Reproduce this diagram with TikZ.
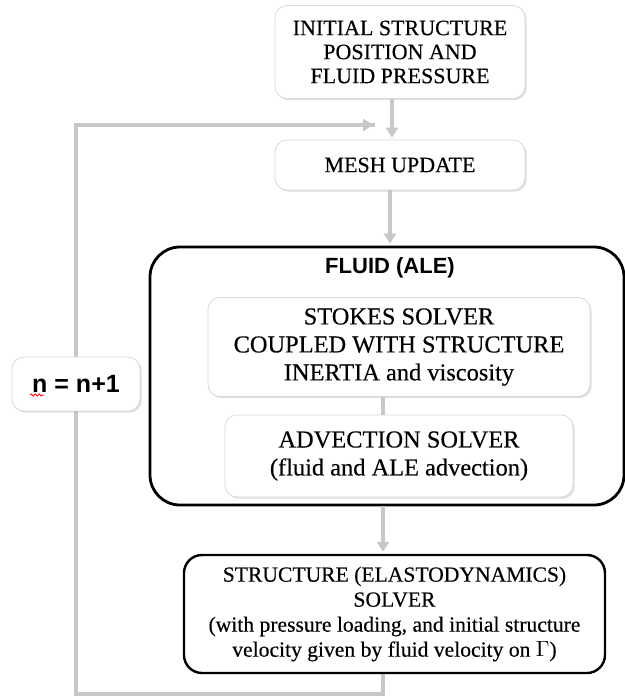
\documentclass[tikz,border=0pt]{standalone}
\usepackage{fontspec}
\setmainfont{Liberation Serif}[FakeBold=0.3]
\setsansfont{Liberation Sans}
\usepackage{tikz}
\usetikzlibrary{arrows.meta}
\usetikzlibrary{shadows,decorations.pathmorphing}
\tikzset{
    stepbox/.style={
        draw=black!15,
        rounded corners=6pt,
        fill=white,
        drop shadow={shadow xshift=0.8pt, shadow yshift=-0.8pt, opacity=0.25},
        align=center,
        inner sep=2pt,
        font=\fontsize{11}{12}\selectfont
    },
    solverbox/.style={
        stepbox,
        font=\fontsize{12.2}{14}\selectfont
    },
    groupbox/.style={
        draw=black,
        line width=1.4pt,
        rounded corners=15pt,
        fill=white
    },
    link/.style={
        draw=black!22,
        line width=1.6pt
    },
    arrowlink/.style={
        link,
        -{Triangle[length=5pt, width=6pt]},
        shorten >=1pt
    }
}

\begin{document}
\begin{tikzpicture}[x=0.5pt, y=-0.5pt]
    \useasboundingbox (0,0) rectangle (625,697);
    % Loop back line
    \coordinate (down) at (383,694);
    \coordinate (corner) at (76,694);
    \coordinate (top) at (76,125);
    \coordinate (join) at (375,125);
    \draw[link, line join=miter] (383,670) -- (down) -- (corner) -- (top) -- (join);
    \draw[arrowlink] (300,125) -- (join);

    % Boxes
    \node[stepbox, minimum width=125pt, minimum height=46.5pt] (init) at (400,52)
        {INITIAL STRUCTURE\\POSITION AND\\FLUID PRESSURE};
    \node[stepbox, minimum width=125pt, minimum height=25pt] (mesh) at (400,165)
        {MESH UPDATE};
    \node[groupbox, minimum width=237pt, minimum height=129pt] (fluid) at (387,376) {};
    \node[font=\sffamily\bfseries\fontsize{11}{13}\selectfont] (fluidlabel) at (390,268) {FLUID (ALE)};
    \node[solverbox, minimum width=191pt, minimum height=49.5pt] (stokes) at (399,347)
        {STOKES SOLVER\\COUPLED WITH STRUCTURE\\INERTIA and viscosity};
    \node[solverbox, minimum width=174pt, minimum height=41pt] (advect) at (399,456)
        {ADVECTION SOLVER\\(fluid and ALE advection)};
    \node[groupbox, line width=1.2pt, rounded corners=9pt, minimum width=210.5pt,
        minimum height=59pt, align=center, inner sep=1pt,
        font=\fontsize{10.8}{12.5}\selectfont] (struct) at (394.5,614)
        {STRUCTURE (ELASTODYNAMICS)\\SOLVER\\(with pressure loading, and initial structure\\velocity given by fluid velocity on $\Gamma$)};
    \node[stepbox, minimum width=64pt, minimum height=27pt,
        font=\sffamily\bfseries\fontsize{12.5}{14}\selectfont] (count) at (76,384)
        {n = n+1};
    \draw[red, line width=0.4pt, decorate,
        decoration={snake, amplitude=0.5pt, segment length=2pt}]
        ([xshift=-23pt, yshift=-5.5pt]count.center) -- ++(7pt,0);

    % Connectors
    \draw[arrowlink] (init.south -| 392,0) -- (mesh.north -| 392,0);
    \draw[arrowlink] (mesh.south -| 390,0) -- (fluid.north -| 390,0);
    \draw[link] (stokes.south -| 383,0) -- (advect.north -| 383,0);
    \draw[arrowlink] (fluid.south -| 383,0) -- (struct.north -| 383,0);
\end{tikzpicture}
\end{document}
